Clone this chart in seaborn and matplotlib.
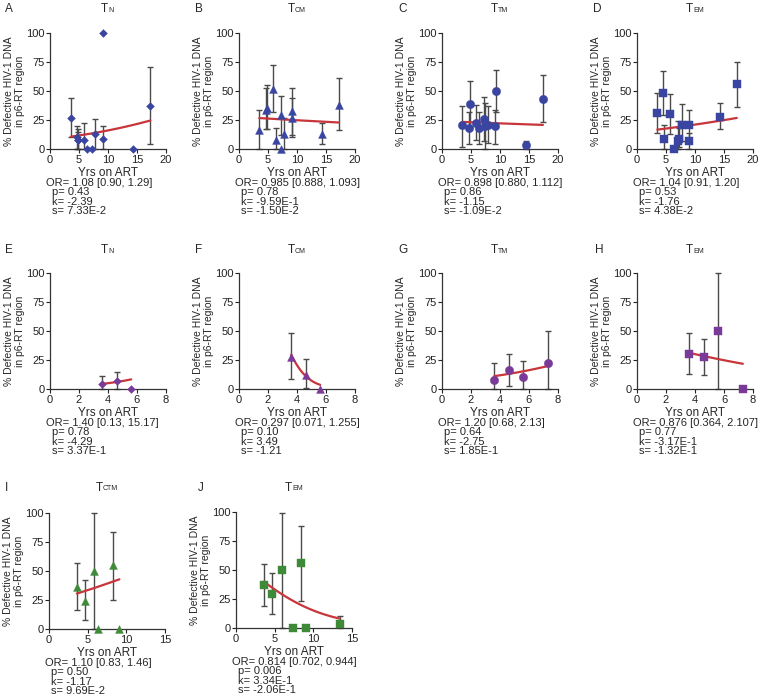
import numpy as np
import pandas as pd
import seaborn as sns
from matplotlib import pyplot as plt

nan = np.nan

# panel letters / subsets / marker rows
letters = ['A', 'B', 'C', 'D', 'E', 'F', 'G', 'H', 'I', 'J']
subsets = ['N', 'CM', 'TM', 'EM', 'N', 'CM', 'TM', 'EM', 'CTM', 'EM']
markers = ['D', '^', 'o', 's', 'D', '^', 'o', 's', '^', 's']

# yrs on ART, % defective, error bar lower / upper
xA = [3.6, 4.6, 4.8, 4.9, 5.8, 6.3, 7.2, 7.8, 9.1, 9.1, 14.3, 17.3]
yA = [27, 10.5, 8, 7.5, 7.7, 0, 0, 12.6, 100, 8.6, 0, 37.5]
loA = [10, 0, 0, 0, 0, nan, nan, 0, nan, 0, nan, 4]
hiA = [44, 20, 17, 15, 22, nan, nan, 26, nan, 20, nan, 71]

xB = [3.5, 4.6, 4.9, 5.8, 6.4, 7.2, 7.3, 7.7, 9.1, 9.2, 14.3, 17.2]
yB = [16, 34, 35, 52, 7.5, 29.5, 0, 13, 27, 33, 13, 38]
loB = [0, 17, 17, 32, 0, 12, nan, 0, 10, 12, 4, 16]
hiB = [34, 53, 55, 72, 18, 46, nan, 27, 44, 53, 22, 61]

xC = [3.5, 4.6, 4.8, 5.8, 6.4, 7.2, 7.4, 7.9, 9.2, 9.3, 14.4, 17.4]
yC = [20.5, 18, 38.5, 22.5, 18, 26, 20, 21, 19.5, 50, 3.5, 43.5]
loC = [2, 4, 19, 8, 4, 7, 0, 5, 4, 32, 0, 23]
hiC = [37, 32, 59, 38, 32, 45, 40, 37, 34, 68, 7, 64]

xD = [3.5, 4.4, 4.7, 5.7, 6.3, 7.1, 7.2, 7.7, 8.9, 9.0, 14.3, 17.2]
yD = [31, 48, 9, 30, 0, 7, 9, 21, 6.5, 21, 28, 56]
loD = [14, 29, 0, 13, nan, 0, 2, 7, 0, 9, 17, 36]
hiD = [48, 67, 21, 47, nan, 24, 18, 39, 14, 34, 40, 75]

xE = [3.6, 4.6, 5.6]
yE = [4, 6.5, 0]
loE = [0, 0, nan]
hiE = [11.5, 15, nan]

xF = [3.6, 4.6, 5.6]
yF = [27.5, 12, 0]
loF = [9, 1, nan]
hiF = [48, 25.5, nan]

xG = [3.6, 4.6, 5.6, 7.3]
yG = [7.5, 16.5, 10.5, 22]
loG = [0, 3, 0, 0]
hiG = [22, 30, 24, 50]

xH = [3.6, 4.6, 5.6, 7.3]
yH = [30.5, 28, 50, 0]
loH = [13, 12, 0, nan]
hiH = [48.5, 43.5, 100, nan]

xI = [3.6, 4.6, 5.8, 6.4, 8.3, 9.1]
yI = [36, 24.5, 50, 0, 55, 0]
loI = [16, 7.5, 0, nan, 25, nan]
hiI = [56.5, 42, 100, nan, 84, nan]

xJ = [3.6, 4.6, 5.9, 7.4, 8.4, 9.1, 13.4]
yJ = [37.5, 29.5, 50, 0, 56, 0, 3.5]
loJ = [19, 12.5, 0, nan, 23, nan, 0]
hiJ = [55.5, 47, 99, nan, 88, nan, 10]

# logistic fit: logit(p) = k + s*x
k_vals = [-2.39, -0.959, -1.15, -1.76, -4.29, 3.49, -2.75, -0.317, -1.17, 0.334]
s_vals = [0.0733, -0.0150, -0.0109, 0.0438, 0.337, -1.21, 0.185, -0.132, 0.0969, -0.206]

OR_txt = ['OR= 1.08 [0.90, 1.29]', 'OR= 0.985 [0.888, 1.093]', 'OR= 0.898 [0.880, 1.112]',
          'OR= 1.04 [0.91, 1.20]', 'OR= 1.40 [0.13, 15.17]', 'OR= 0.297 [0.071, 1.255]',
          'OR= 1.20 [0.68, 2.13]', 'OR= 0.876 [0.364, 2.107]', 'OR= 1.10 [0.83, 1.46]',
          'OR= 0.814 [0.702, 0.944]']
p_txt = ['p= 0.43', 'p= 0.78', 'p= 0.86', 'p= 0.53', 'p= 0.78', 'p= 0.10', 'p= 0.64',
         'p= 0.77', 'p= 0.50', 'p= 0.006']
k_txt = ['k= -2.39', 'k= -9.59E-1', 'k= -1.15', 'k= -1.76', 'k= -4.29', 'k= 3.49',
         'k= -2.75', 'k= -3.17E-1', 'k= -1.17', 'k= 3.34E-1']
s_txt = ['s= 7.33E-2', 's= -1.50E-2', 's= -1.09E-2', 's= 4.38E-2', 's= 3.37E-1', 's= -1.21',
         's= 1.85E-1', 's= -1.32E-1', 's= 9.69E-2', 's= -2.06E-1']

xs = [xA, xB, xC, xD, xE, xF, xG, xH, xI, xJ]
ys = [yA, yB, yC, yD, yE, yF, yG, yH, yI, yJ]
los = [loA, loB, loC, loD, loE, loF, loG, loH, loI, loJ]
his = [hiA, hiB, hiC, hiD, hiE, hiF, hiG, hiH, hiI, hiJ]
xmax = [20, 20, 20, 20, 8, 8, 8, 8, 15, 15]

sns.set_style('ticks')
plt.rcParams['font.family'] = ['Liberation Sans', 'DejaVu Sans']

W, H = 760, 698
fig = plt.figure(figsize=(W / 100, H / 100), dpi=100)

# axes boxes in pixels: left, top, width, height
lefts = [50, 239, 442, 637, 50, 239, 442, 637, 49, 236]
tops = [33, 33, 33, 33, 273, 273, 273, 273, 513, 512]
letter_x = [5, 195, 398, 593, 5, 195, 398, 595, 5, 198]
title_y = [9, 9, 9, 9, 250, 250, 250, 250, 488, 488]
aw, ah = 116, 116

row_col = ['#3a45a2', '#3a45a2', '#3a45a2', '#3a45a2',
           '#7a3a98', '#7a3a98', '#7a3a98', '#7a3a98', '#3f8a38', '#3f8a38']
msz = {'D': 16, '^': 32, 'o': 36, 's': 30}

for i in range(10):
    l, t = lefts[i], tops[i]
    ax = fig.add_axes([l / W, 1 - (t + ah) / H, aw / W, ah / H])
    df = pd.DataFrame({'x': xs[i], 'y': ys[i], 'lo': los[i], 'hi': his[i]})
    eb = df.dropna()
    ax.errorbar(eb['x'], eb['y'], yerr=[eb['y'] - eb['lo'], eb['hi'] - eb['y']],
                fmt='none', ecolor='#4a4a4a', elinewidth=1.0, capsize=2.4,
                capthick=1.0, clip_on=False, zorder=2)
    xf = np.linspace(min(xs[i]), max(xs[i]), 60)
    fit = pd.DataFrame({'x': xf, 'y': 100 / (1 + np.exp(-(k_vals[i] + s_vals[i] * xf)))})
    sns.lineplot(data=fit, x='x', y='y', ax=ax, color='#c8353a', lw=1.6, zorder=3)
    sns.scatterplot(data=df, x='x', y='y', ax=ax, marker=markers[i], s=msz[markers[i]],
                    color=row_col[i], edgecolor=row_col[i], linewidth=0.3,
                    clip_on=False, zorder=4)
    ax.set_xlim(0, xmax[i])
    ax.set_ylim(0, 100)
    step = 2 if xmax[i] == 8 else 5
    ax.set_xticks(np.arange(0, xmax[i] + 1, step))
    ax.set_yticks([0, 25, 50, 75, 100])
    ax.tick_params(labelsize=8, length=3, width=0.8, pad=1, colors='#222222')
    for sp in ['left', 'bottom']:
        ax.spines[sp].set_color('#333333')
        ax.spines[sp].set_linewidth(0.9)
    sns.despine(ax=ax)
    ax.set_xlabel('Yrs on ART', fontsize=8.5, labelpad=1.5)
    ax.set_ylabel('% Defective HIV-1 DNA\nin p6-RT region', fontsize=7.5, labelpad=1,
                  linespacing=1.05)

    # panel letter and title
    fig.text(letter_x[i] / W, 1 - title_y[i] / H, letters[i], fontsize=8.5, va='center')
    cx = l + aw / 2 + 2
    suf = subsets[i]
    fig.text((cx - len(suf) * 2.0) / W, 1 - title_y[i] / H, 'T', fontsize=8.5,
             ha='right', va='center')
    fig.text((cx - len(suf) * 2.0) / W, 1 - (title_y[i] + 1) / H, suf, fontsize=5,
             ha='left', va='center')

    # statistics text
    by = t + ah + 34
    fig.text((l - 4) / W, 1 - by / H, OR_txt[i], fontsize=8, va='center')
    for j, s in enumerate([p_txt[i], k_txt[i], s_txt[i]]):
        fig.text((l + 2) / W, 1 - (by + 9.3 * (j + 1)) / H, s, fontsize=8, va='center')

fig.savefig('out.png', dpi=100)
